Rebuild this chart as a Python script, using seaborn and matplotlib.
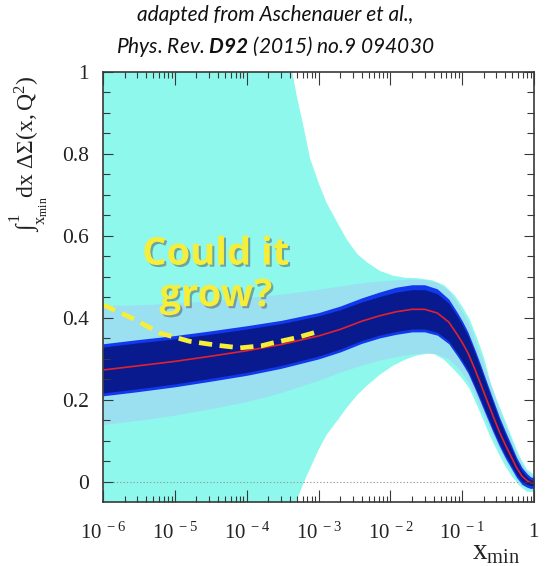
import numpy as np
import pandas as pd
import matplotlib
matplotlib.use("Agg")
import matplotlib.pyplot as plt
import matplotlib.patheffects as pe
import matplotlib.ticker as mticker
import seaborn as sns

# ---- data -----------------------------------------------------------------
x_min = [1e-6, 3e-6, 1e-5, 3e-5, 1e-4, 3e-4, 1e-3, 2e-3, 4e-3, 7e-3, 1.2e-2,
         2e-2, 3e-2, 4.5e-2, 6.5e-2, 0.085, 0.1, 0.12, 0.15, 0.18, 0.22,
         0.27, 0.33, 0.4, 0.48, 0.57, 0.68, 0.8, 0.9, 1.0]

central = [0.273, 0.283, 0.294, 0.306, 0.320, 0.335, 0.356, 0.372, 0.392,
           0.405, 0.415, 0.421, 0.421, 0.412, 0.390, 0.360, 0.340, 0.315,
           0.275, 0.240, 0.200, 0.160, 0.122, 0.090, 0.062, 0.035, 0.014,
           0.003, -0.002, -0.002]

inner_lo = [0.217, 0.227, 0.239, 0.252, 0.267, 0.284, 0.307, 0.324, 0.345,
            0.358, 0.367, 0.373, 0.373, 0.365, 0.344, 0.315, 0.296, 0.273,
            0.235, 0.202, 0.165, 0.128, 0.094, 0.065, 0.041, 0.018, 0.001,
            -0.006, -0.009, -0.008]
inner_hi = [0.329, 0.339, 0.349, 0.360, 0.373, 0.386, 0.405, 0.420, 0.439,
            0.452, 0.463, 0.469, 0.469, 0.459, 0.436, 0.405, 0.384, 0.357,
            0.315, 0.278, 0.235, 0.192, 0.150, 0.115, 0.083, 0.052, 0.027,
            0.012, 0.005, 0.004]

mid_lo = [0.210, 0.220, 0.232, 0.245, 0.260, 0.277, 0.300, 0.317, 0.338,
          0.351, 0.360, 0.366, 0.366, 0.358, 0.337, 0.308, 0.289, 0.266,
          0.228, 0.195, 0.158, 0.121, 0.087, 0.058, 0.034, 0.011, -0.006,
          -0.013, -0.016, -0.015]
mid_hi = [0.337, 0.347, 0.357, 0.368, 0.381, 0.394, 0.413, 0.429, 0.449,
          0.463, 0.475, 0.481, 0.481, 0.471, 0.446, 0.414, 0.393, 0.366,
          0.323, 0.286, 0.243, 0.200, 0.158, 0.123, 0.091, 0.060, 0.035,
          0.020, 0.012, 0.011]

outer_lo = [0.140, 0.150, 0.163, 0.178, 0.196, 0.218, 0.248, 0.268, 0.285,
            0.297, 0.306, 0.312, 0.315, 0.312, 0.300, 0.280, 0.265, 0.245,
            0.212, 0.180, 0.145, 0.110, 0.078, 0.051, 0.028, 0.006, -0.008,
            -0.016, -0.019, -0.018]
outer_hi = [0.430, 0.432, 0.436, 0.442, 0.450, 0.458, 0.470, 0.478, 0.486,
            0.490, 0.493, 0.495, 0.494, 0.486, 0.466, 0.437, 0.416, 0.390,
            0.348, 0.309, 0.265, 0.220, 0.175, 0.137, 0.103, 0.070, 0.043,
            0.026, 0.017, 0.015]

wide_x = [1e-6, 2.5e-4, 3.5e-4, 4e-4, 5e-4, 6.3e-4, 7.6e-4, 1e-3, 1.3e-3,
          1.8e-3, 2.5e-3, 3.5e-3, 4.8e-3, 7.1e-3, 1.1e-2, 1.6e-2, 2.3e-2,
          3.8e-2, 5.6e-2, 7.9e-2, 0.1, 0.126, 0.158, 0.2, 0.25, 0.32, 0.4,
          0.5, 0.63, 0.8, 1.0]
wide_lo = [-0.30, -0.30, -0.20, -0.12, -0.044, 0.000, 0.032, 0.078, 0.115,
           0.148, 0.182, 0.213, 0.236, 0.261, 0.284, 0.298, 0.308, 0.315,
           0.298, 0.272, 0.252, 0.228, 0.190, 0.148, 0.108, 0.070, 0.038,
           0.012, -0.010, -0.024, -0.025]
wide_hi = [1.30, 1.30, 1.08, 1.03, 0.94, 0.86, 0.79, 0.73, 0.68, 0.635, 0.59,
           0.555, 0.535, 0.515, 0.503, 0.498, 0.497, 0.492, 0.480, 0.455,
           0.428, 0.398, 0.355, 0.305, 0.240, 0.190, 0.148, 0.105, 0.062,
           0.030, 0.018]

growth_x = [1e-6, 2.5e-6, 6.2e-6, 1.6e-5, 4e-5, 8.1e-5, 1.6e-4, 2.3e-4,
            5e-4, 9.5e-4]
growth_y = [0.432, 0.400, 0.363, 0.343, 0.333, 0.327, 0.332, 0.339, 0.352,
            0.366]

y_ticks = [0.0, 0.2, 0.4, 0.6, 0.8, 1.0]
y_ticklabels = ["0", "0.2", "0.4", "0.6", "0.8", "1"]
x_ticks = [1e-6, 1e-5, 1e-4, 1e-3, 1e-2, 1e-1, 1.0]
x_ticklabels = [r"$10^{\,\,-6}$", r"$10^{\,\,-5}$", r"$10^{\,\,-4}$",
                r"$10^{\,\,-3}$", r"$10^{\,\,-2}$", r"$10^{\,\,-1}$", r"$1$"]

# ---- style ----------------------------------------------------------------
sns.set_theme(style="ticks")
plt.rcParams.update({
    "font.family": ["Liberation Serif", "DejaVu Serif"],
    "mathtext.fontset": "custom",
    "mathtext.rm": "Liberation Serif",
    "mathtext.it": "Liberation Serif:italic",
    "mathtext.bf": "Lato:italic:bold",
    "mathtext.fallback": "stix",
    "axes.edgecolor": "#383838",
    "axes.linewidth": 1.2,
    "axes.axisbelow": False,
})

CYAN = "#8ef8ec"
LIGHT = "#9be0f1"
BRIGHT = "#1238ee"
NAVY = "#081a8e"
RED = "#e2212e"
YELLOW = "#f7ee3a"
INK = "#222222"

fig = plt.figure(figsize=(5.48, 5.66), dpi=100)
ax = fig.add_axes([0.188, 0.1131, 0.7865, 0.7597])
ax.set_xscale("log")
ax.set_axisbelow(False)

ax.fill_between(wide_x, wide_lo, wide_hi, color=CYAN, lw=0, zorder=1.0)
ax.axhline(0, color="#9a9a9a", lw=0.8, ls=(0, (1.2, 1.8)), zorder=1.05)
ax.fill_between(x_min, outer_lo, outer_hi, color=LIGHT, lw=0, zorder=1.1)
ax.fill_between(x_min, mid_lo, mid_hi, color=BRIGHT, lw=0, zorder=1.2)
ax.fill_between(x_min, inner_lo, inner_hi, color=NAVY, lw=0, zorder=1.3)

curve = pd.DataFrame({"x": x_min, "y": central})
sns.lineplot(data=curve, x="x", y="y", ax=ax, color=RED, lw=1.2,
             estimator=None, sort=False, zorder=1.6)

growth = pd.DataFrame({"x": growth_x, "y": growth_y})
sns.lineplot(data=growth, x="x", y="y", ax=ax, color=YELLOW, lw=3.4,
             estimator=None, sort=False, zorder=1.7,
             linestyle=(0, (2.8, 1.6)), solid_capstyle="butt")

ax.set_xlim(1e-6, 1.0)
ax.set_ylim(-0.049, 1.0)

ax.set_xticks(x_ticks)
ax.set_xticklabels(x_ticklabels)
ax.xaxis.set_minor_locator(mticker.LogLocator(base=10, subs=np.arange(2, 10), numticks=20))
ax.xaxis.set_minor_formatter(mticker.NullFormatter())
ax.set_yticks(y_ticks)
ax.set_yticklabels(y_ticklabels)
ax.yaxis.set_minor_locator(mticker.MultipleLocator(0.05))

ax.tick_params(which="both", direction="in", top=True, right=True,
               bottom=True, left=True, color="#383838", width=0.8,
               labelcolor=INK)
ax.tick_params(axis="x", which="major", length=9, pad=15, labelsize=15)
ax.tick_params(axis="x", which="minor", length=4.5)
ax.tick_params(axis="y", which="major", length=7.5, pad=10, labelsize=15.5)
ax.tick_params(axis="y", which="minor", length=5)
for t in ax.xaxis.get_major_ticks() + ax.xaxis.get_minor_ticks() + \
        ax.yaxis.get_major_ticks() + ax.yaxis.get_minor_ticks():
    t.set_zorder(3)

ax.set_ylabel(r"$\int_{\mathrm{x}_{\mathrm{min}}}^{1}\mathrm{dx}\ \Delta\Sigma(\mathrm{x,Q}^{2})$",
              fontsize=17, color=INK)
ax.yaxis.set_label_coords(-0.122, 0.81)
ax.set_xlabel(r"$\mathrm{x}_{\mathrm{min}}$", fontsize=21, color=INK)
ax.xaxis.set_label_coords(0.912, -0.088)

ax.text(0.262, 0.527, "Could it\ngrow?", transform=ax.transAxes,
        ha="center", va="center", fontsize=27.5, fontweight="bold",
        family="Open Sans", color=YELLOW, linespacing=1.12, zorder=4,
        path_effects=[pe.withSimplePatchShadow(offset=(1.5, -1.5),
                                               shadow_rgbFace="#444444",
                                               alpha=0.45)])

fig.text(0.502, 0.973, "adapted from Aschenauer et al.,", ha="center",
         va="center", fontsize=15, family="Lato", style="italic",
         color="#111111")
fig.text(0.502, 0.917, r"Phys. Rev. $\mathbf{D92}$ (2015) no.9 094030",
         ha="center", va="center", fontsize=15, family="Lato",
         style="italic", color="#111111")

fig.savefig("out.png", dpi=100)
